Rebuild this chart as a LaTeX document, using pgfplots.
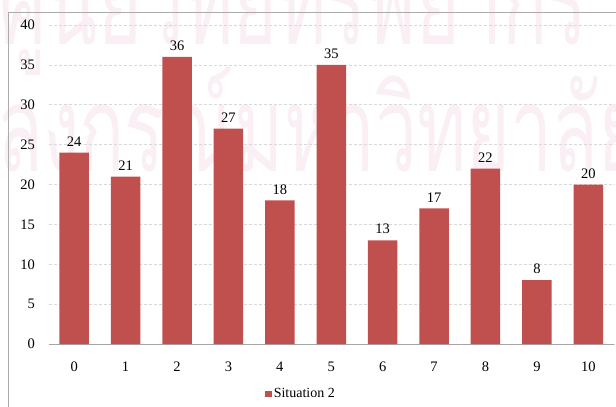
\documentclass[border=0pt]{standalone}
\usepackage{fontspec}
\setmainfont{Liberation Serif}
\newfontfamily\thaifont[Script=Thai]{Loma}
\usepackage{graphicx}
\usepackage{pgfplots}
\pgfplotsset{compat=1.18}
\definecolor{barred}{HTML}{C0504D}
\definecolor{wm}{RGB}{250,239,244}
\definecolor{gridc}{HTML}{D9D9D9}
\definecolor{framec}{HTML}{ABABAB}
\definecolor{axc}{HTML}{A6A6A6}
\newcommand{\lab}{\fontsize{14.5}{17}\selectfont}
\begin{document}
\begin{tikzpicture}[x=1pt,y=1pt]
\begin{scope}
\clip (0,0) rectangle (616,407);
\node[anchor=base east, inner sep=0pt, text=wm] at (588,362) {\scalebox{1.07}[1.7]{\thaifont\fontsize{70}{80}\selectfont ศูนย์วิทยทรัพยากร}};
\node[anchor=base west, inner sep=0pt, text=wm] at (-3,235) {\scalebox{1.07}[1.7]{\thaifont\fontsize{70}{80}\selectfont ลงกรณ์มหาวิทยาลัย}};
\node[anchor=base east, inner sep=0pt, text=wm] at (-3,235) {\scalebox{1.07}[1.7]{\thaifont\fontsize{70}{80}\selectfont จุฬา}};
\end{scope}
\begin{axis}[
  at={(48.5pt,63pt)}, anchor=south west,
  scale only axis, width=565.5pt, height=319pt,
  xmin=-0.5, xmax=10.5, ymin=0, ymax=40,
  ybar, bar width=29.5pt,
  xtick={0,...,10}, ytick={0,5,...,40},
  ymajorgrids,
  grid style={gridc, dash pattern=on 3pt off 2pt, line width=0.7pt},
  axis x line*=bottom, axis y line*=left,
  y axis line style={draw=none},
  x axis line style={axc, line width=1pt, -},
  major tick length=0pt,
  /pgf/number format/assume math mode=true,
  tick label style={font=\lab},
  yticklabel style={anchor=east, inner sep=0pt, xshift=-13.5pt},
  xticklabel style={anchor=north, inner sep=0pt, yshift=-18pt},
  nodes near coords,
  every node near coord/.append style={font=\lab, anchor=south, inner sep=0pt, yshift=6pt, text=black},
  legend image code/.code={\fill[barred] (0pt,-3.3pt) rectangle (6.7pt,3.4pt);},
  legend style={draw=none, fill=none, at={(0.4465,-0.157)}, anchor=center, font=\fontsize{14}{16}\selectfont},
]
\addplot[fill=barred, draw=none] coordinates {(0,24) (1,21) (2,36) (3,27) (4,18) (5,35) (6,13) (7,17) (8,22) (9,8) (10,20)};
\addlegendentry{Situation 2}
\end{axis}
\draw[framec, line width=1pt] (8.3pt,0pt) -- (8.3pt,394.5pt) -- (616pt,394.5pt);
\pgfresetboundingbox
\path[use as bounding box] (0pt,0pt) rectangle (616pt,407pt);
\end{tikzpicture}
\end{document}
